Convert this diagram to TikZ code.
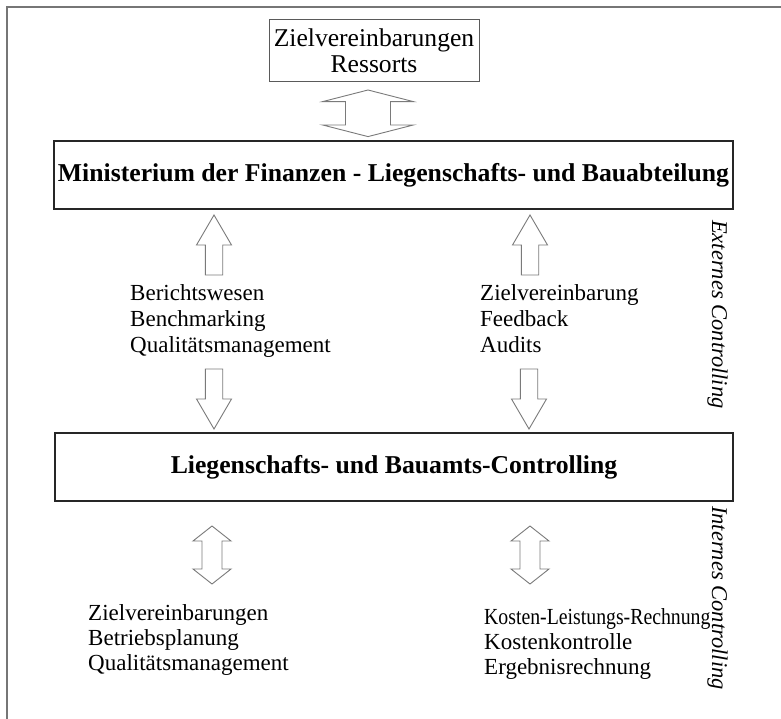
\documentclass[tikz,border=0pt]{standalone}
\usepackage{fontspec}
\setmainfont{Liberation Serif}
\definecolor{framegray}{HTML}{767676}
\definecolor{boxline}{HTML}{262626}
\definecolor{arrowgray}{HTML}{7A7A7A}
\definecolor{thinbox}{HTML}{5A5A5A}
\tikzset{
  hollow/.style={draw=arrowgray, fill=white, line width=0.9pt, line join=miter},
  mainbox/.style={draw=boxline, line width=2pt, inner sep=0pt,
    font=\bfseries\fontsize{25.7}{30}\selectfont},
  topbox/.style={draw=thinbox, line width=1pt, inner sep=0pt, align=center,
    font=\fontsize{25.6}{26}\selectfont},
  listtext/.style={anchor=base west, inner sep=0pt,
    font=\fontsize{23}{26}\selectfont},
  sidetext/.style={anchor=base west, inner sep=0pt, rotate=-90,
    font=\itshape\fontsize{22.5}{26}\selectfont},
  % hollow block arrow pointing up: #1 head length, #2 shaft length,
  % #3 head half width, #4 shaft half width (origin at the head base)
  pics/onearrow/.style n args={4}{code={
    \draw[hollow] (0,-#1) -- (#3,0) -- (#4,0) -- (#4,#2) -- (-#4,#2)
      -- (-#4,0) -- (-#3,0) -- cycle;}},
  % hollow double block arrow: #1 tip distance, #2 head base distance,
  % #3 head half width, #4 shaft half width (origin at the centre)
  pics/twoarrow/.style n args={4}{code={
    \draw[hollow] (0,-#1) -- (#3,-#2) -- (#4,-#2) -- (#4,#2) -- (#3,#2)
      -- (0,#1) -- (-#3,#2) -- (-#4,#2) -- (-#4,-#2) -- (-#3,-#2) -- cycle;}},
}
\begin{document}
\begin{tikzpicture}[x=1pt, y=-1pt]
  \useasboundingbox (0,0) rectangle (781,719);
  \fill[white] (0,0) rectangle (781,719);

  % outer frame (top and left edges)
  \draw[framegray, line width=2pt] (7,719) -- (7,7) -- (781,7);

  % boxes
  \node[topbox, minimum width=210pt, minimum height=62pt] (ressorts) at (374,51)
    {Zielvereinbarungen\\Ressorts};
  \node[mainbox, minimum width=679pt, minimum height=68pt] (bmf) at (393.5,175)
    {Ministerium der Finanzen - Liegenschafts- und Bauabteilung};
  \node[mainbox, minimum width=678pt, minimum height=68pt] (lbc) at (394,467)
    {Liegenschafts- und Bauamts-Controlling};

  % block arrows
  \pic at (368,113.3) {twoarrow={23.3}{11.7}{45.3}{22.5}};
  \pic at (214,245) {onearrow={30}{30}{17.5}{8.7}};
  \pic at (530,245) {onearrow={30}{30}{17.5}{8.7}};
  \pic[yscale=-1] at (214,399) {onearrow={30}{30}{17.5}{8.7}};
  \pic[yscale=-1] at (529,399) {onearrow={30}{30}{17.5}{8.7}};
  \pic at (212,555) {twoarrow={29}{14}{19}{10}};
  \pic at (530,555) {twoarrow={29}{14}{19}{10}};

  % external controlling instruments
  \node[listtext] (ber) at (130,300) {Berichtswesen};
  \node[listtext] (ben) at (130,326) {Benchmarking};
  \node[listtext] (qm1) at (130,352) {Qualitätsmanagement};
  \node[listtext] (zv1) at (480,300) {Zielvereinbarung};
  \node[listtext] (fb)  at (480,326) {Feedback};
  \node[listtext] (aud) at (480,352) {Audits};

  % internal controlling instruments
  \node[listtext] (zv2) at (88,620) {Zielvereinbarungen};
  \node[listtext] (bp)  at (88,645) {Betriebsplanung};
  \node[listtext] (qm2) at (88,670) {Qualitätsmanagement};
  \node[listtext, xscale=0.86] (klr) at (484,624) {Kosten-Leistungs-Rechnung};
  \node[listtext] (kk)  at (484,649) {Kostenkontrolle};
  \node[listtext] (er)  at (484,674) {Ergebnisrechnung};

  % side labels
  \node[sidetext] (ext) at (712,220) {Externes Controlling};
  \node[sidetext] (int) at (712,506) {Internes Controlling};
\end{tikzpicture}
\end{document}
